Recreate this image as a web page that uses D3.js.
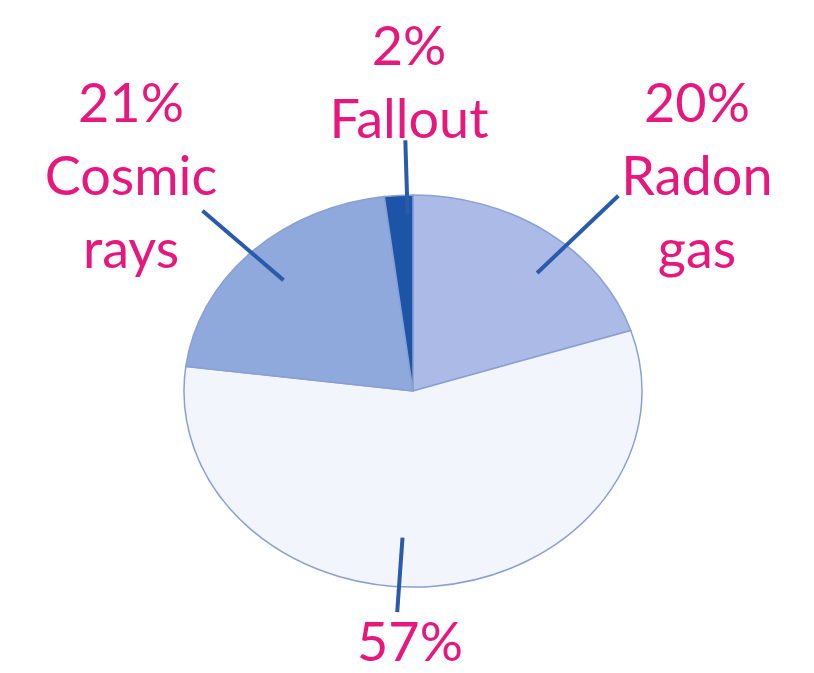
<!DOCTYPE html>
<html>
<head>
<meta charset="utf-8">
<script src="https://cdn.jsdelivr.net/npm/d3@7"></script>
<style>
  html, body { margin: 0; padding: 0; background: #ffffff; }
  svg { display: block; }
</style>
</head>
<body>
<div id="chart"></div>
<script>
//Size of the page.
let w = 814
let h = 673

//Slices, clockwise from twelve o'clock.
let categories = ["Radon gas", "Other", "Cosmic rays", "Fallout"]
let values = [20, 57, 21, 2]
let nameLines = [["Radon", "gas"], [], ["Cosmic", "rays"], ["Fallout"]]

//Fill of each slice.
let sliceColors = ["#abbae6", "#f2f5fc", "#8fa9dc", "#1c55a8"]

//Pie is a squashed circle.
let cx = 413
let cy = 391
let rx = 229
let ry = 196

//Leader lines (angle in degrees clockwise from top, radii as share of the pie) and label anchors.
let layout = [
  { angle: 42, r0: 0.81, r1: 1.34, lx: 697, ly: 122 },
  { angle: 183.5, r0: 0.75, r1: 1.13, lx: 410, ly: 661 },
  { angle: 315, r0: 0.80, r1: 1.30, lx: 131, ly: 122 },
  { angle: 358.5, r0: 0.9, r1: 1.28, lx: 409, ly: 65 }
]

let lineHeight = 73

const svg = d3.select("#chart")
              .append("svg")
              .attr("width", w)
              .attr("height", h)

const pie = d3.pie().sort(null).value(d => d)
const arcs = pie(values)

const arc = d3.arc().innerRadius(0).outerRadius(ry)

//Pie group, stretched sideways to the ellipse.
const pieG = svg.append("g")
                .attr("transform", "translate(" + cx + "," + cy + ") scale(" + (rx / ry) + ",1)")

pieG.selectAll("path")
    .data(arcs)
    .enter()
    .append("path")
    .attr("d", arc)
    .attr("fill", (d, i) => sliceColors[i])
    .attr("stroke", "#8a9fd2")
    .attr("stroke-width", 1.5)
    .attr("vector-effect", "non-scaling-stroke")

//Turns a polar spot on the ellipse into page coordinates.
function spot(angle, r) {
  let a = angle * Math.PI / 180
  return [cx + Math.sin(a) * r * rx, cy - Math.cos(a) * r * ry]
}

//Leader lines.
svg.selectAll("line.leader")
   .data(layout)
   .enter()
   .append("line")
   .attr("class", "leader")
   .attr("x1", d => spot(d.angle, d.r0)[0])
   .attr("y1", d => spot(d.angle, d.r0)[1])
   .attr("x2", d => spot(d.angle, d.r1)[0])
   .attr("y2", d => spot(d.angle, d.r1)[1])
   .attr("stroke", "#2a5aaa")
   .attr("stroke-width", 4)

//Labels: percent first, then the name.
const labels = svg.selectAll("text.label")
                  .data(arcs)
                  .enter()
                  .append("text")
                  .attr("class", "label")
                  .attr("text-anchor", "middle")
                  .attr("font-family", "Lato, 'Open Sans', sans-serif")
                  .attr("font-size", 54)
                  .attr("fill", "#e6187e")

labels.each(function (d, i) {
  let lines = [values[i] + "%", ...nameLines[i]]
  d3.select(this)
    .selectAll("tspan")
    .data(lines)
    .enter()
    .append("tspan")
    .attr("x", layout[i].lx)
    .attr("y", (t, j) => layout[i].ly + j * lineHeight)
    .text(t => t)
})
</script>
</body>
</html>
